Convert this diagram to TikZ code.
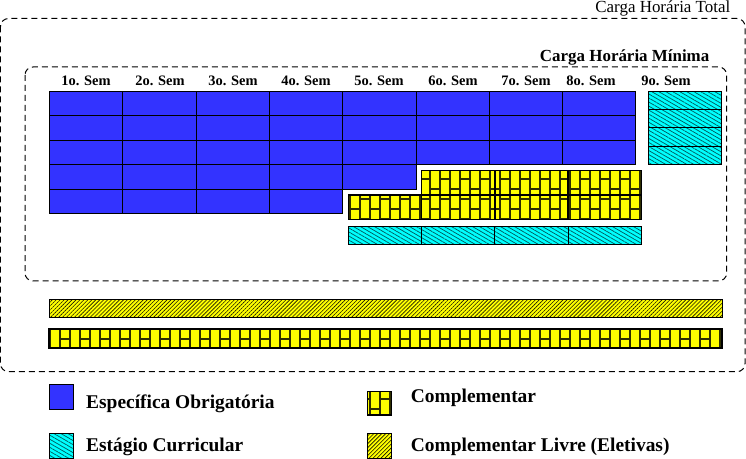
\documentclass[tikz,border=0pt]{standalone}
\usepackage{fontspec}
\setmainfont{Liberation Serif}
\usetikzlibrary{patterns,patterns.meta}
\definecolor{obrigblue}{RGB}{51,51,255}
\definecolor{stagecyan}{RGB}{0,255,255}
\definecolor{stageline}{RGB}{0,95,95}
\definecolor{complyellow}{RGB}{255,255,0}
\definecolor{brickline}{RGB}{45,45,0}
\newcommand{\semFont}{\bfseries\fontsize{14.5}{17}\selectfont}
\newcommand{\legFont}{\bfseries\fontsize{19.5}{23}\selectfont}
\pgfdeclarepatternformonly{vbricks}{\pgfqpoint{-1bp}{-1bp}}{\pgfqpoint{21bp}{21bp}}{\pgfqpoint{20bp}{20bp}}{%
  \pgfsetlinewidth{1.3bp}%
  \pgfpathmoveto{\pgfqpoint{0bp}{-1bp}}\pgfpathlineto{\pgfqpoint{0bp}{21bp}}%
  \pgfpathmoveto{\pgfqpoint{10bp}{-1bp}}\pgfpathlineto{\pgfqpoint{10bp}{21bp}}%
  \pgfpathmoveto{\pgfqpoint{0bp}{0bp}}\pgfpathlineto{\pgfqpoint{10bp}{0bp}}%
  \pgfpathmoveto{\pgfqpoint{10bp}{10bp}}\pgfpathlineto{\pgfqpoint{20bp}{10bp}}%
  \pgfusepath{stroke}%
}

\begin{document}
\begin{tikzpicture}[x=1bp, y=-1bp]
  \tikzset{
    cell/.style={inner sep=0, outer sep=0, minimum width=73.3bp, minimum height=24.4bp},
    obrig/.style={cell, draw, line width=0.9bp, fill=obrigblue},
    compl/.style={cell, draw, line width=1.4bp, preaction={fill=complyellow}, pattern=vbricks, pattern color=brickline},
    estag/.style={cell, draw, line width=0.9bp, preaction={fill=stagecyan},
      pattern={Lines[angle=-30, distance=3.5bp, line width=0.75bp]}, pattern color=stageline},
    livre/.style={cell, draw, line width=1bp, preaction={fill=complyellow},
      pattern={Lines[angle=45, distance=2.8bp, line width=0.6bp]}, pattern color=black!85!olive},
    boxline/.style={line width=1bp, dash pattern=on 6bp off 4bp, rounded corners=8bp},
    semlabel/.style={anchor=base, inner sep=0, font=\semFont},
    legtext/.style={anchor=base west, inner sep=0, font=\legFont}
  }
  \useasboundingbox (0,0) rectangle (746,459);

  \draw[boxline] (0.5,18.5) rectangle (745,371.7);
  \node[anchor=base east, inner sep=0, font=\fontsize{17}{20}\selectfont] (total) at (730.5,13) {Carga Horária Total};
  \draw[boxline] (25,67) rectangle (726.7,281);
  \node[anchor=base east, inner sep=0, font=\bfseries\fontsize{17}{20}\selectfont] (minima) at (709.5,61.5) {Carga Horária Mínima};

  \foreach \s/\x in {1/86,2/160,3/233,4/306,5/379,6/453,7/526,8/591,9/666}
    \node[semlabel] (sem-\s) at (\x,86) {\s o. Sem};

  \foreach \c/\n in {1/5,2/5,3/5,4/5,5/4,6/3,7/3,8/3}
    \foreach \r in {1,...,\n}
      \node[obrig] (ob-\c-\r) at ({49.5+73.3*(\c-0.5)}, {91.5+24.4*(\r-0.5)}) {};

  \foreach \c/\r in {5/2,6/1,6/2,7/1,7/2,8/1,8/2}
    \node[compl, minimum height=24.3bp] (co-\c-\r) at ({55+73.3*(\c-0.5)}, {170.8+24.3*(\r-0.5)}) {};

  \foreach \c in {5,...,8}
    \node[estag, minimum height=17.5bp] (es-\c) at ({55+73.3*(\c-0.5)}, 235.25) {};
  \foreach \r in {1,...,4}
    \node[estag, minimum width=72.7bp, minimum height=18.1bp] (es-9-\r) at (684.6, {91.7+18.1*(\r-0.5)}) {};

  \node[livre, minimum width=672.5bp, minimum height=18bp] (livre) at (385.75,308.3) {};
  \node[compl, line width=2bp, minimum width=672.5bp, minimum height=19bp] (complbar) at (385.75,338.8) {};

  \node[obrig, minimum width=24bp, minimum height=25bp] (leg-ob) at (61.3,396.7) {};
  \node[legtext] (leg-ob-text) at (86,408) {Específica Obrigatória};
  \node[estag, minimum width=24bp, minimum height=25bp] (leg-es) at (61.3,445.5) {};
  \node[legtext] (leg-es-text) at (86,451.5) {Estágio Curricular};
  \node[compl, minimum width=24.4bp, minimum height=23.3bp] (leg-co) at (379.5,403.4) {};
  \node[legtext] (leg-co-text) at (410.7,402.5) {Complementar};
  \node[livre, minimum width=24.4bp, minimum height=25bp] (leg-li) at (379.5,445.7) {};
  \node[legtext] (leg-li-text) at (410.7,451.5) {Complementar Livre (Eletivas)};
\end{tikzpicture}
\end{document}
